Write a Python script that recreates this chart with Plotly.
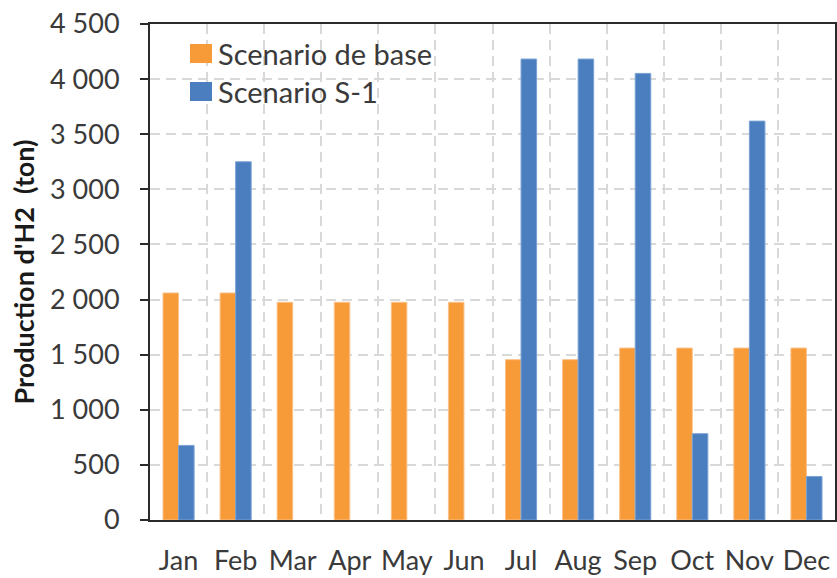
import plotly.graph_objects as go

# Monthly hydrogen production (tonnes) for the two scenarios
months = ["Jan", "Feb", "Mar", "Apr", "May", "Jun",
          "Jul", "Aug", "Sep", "Oct", "Nov", "Dec"]
base_scenario = [2060, 2060, 1975, 1975, 1975, 1975,
                 1455, 1455, 1560, 1560, 1560, 1560]
s1_scenario = [677, 3250, 0, 0, 0, 0,
               4182, 4182, 4052, 783, 3619, 395]
series_names = ["Scenario de base", "Scenario S-1"]

y_ticks = [0, 500, 1000, 1500, 2000, 2500, 3000, 3500, 4000, 4500]

ORANGE = "#F79A38"
BLUE = "#4A7EBF"
FONT = "Lato"
TEXT_COLOR = "#3A3A3A"
AXIS_COLOR = "#2B2B2B"
GRID_COLOR = "#D9D9D9"


def edge_widths(values):
    # no outline on empty months, so nothing is drawn along the baseline
    return [1 if v else 0 for v in values]


fig = go.Figure()
fig.add_trace(go.Bar(
    x=months, y=base_scenario, name=series_names[0],
    marker=dict(color=ORANGE,
                line=dict(color="#FAC28C", width=edge_widths(base_scenario))),
    showlegend=False,
))
fig.add_trace(go.Bar(
    x=months, y=s1_scenario, name=series_names[1],
    marker=dict(color=BLUE,
                line=dict(color="#7BA2D4", width=edge_widths(s1_scenario))),
    showlegend=False,
))

# Legend drawn as coloured squares with labels in the upper left of the plot
legend_rows = [(series_names[0], ORANGE, 0.9405), (series_names[1], BLUE, 0.8639)]
for label, color, yc in legend_rows:
    fig.add_shape(type="rect", xref="paper", yref="paper",
                  x0=0.0584, x1=0.0905, y0=yc - 0.0192, y1=yc + 0.0192,
                  fillcolor=color, line=dict(width=0))
    fig.add_annotation(xref="paper", yref="paper", x=0.0965, y=yc,
                       text=label, showarrow=False, xanchor="left",
                       yanchor="middle",
                       font=dict(family=FONT, size=29, color=TEXT_COLOR))

fig.update_layout(
    width=837, height=578,
    margin=dict(l=150, r=2, t=24, b=58),
    paper_bgcolor="white", plot_bgcolor="white",
    barmode="group", bargap=0.455, bargroupgap=0,
    separators=", ",
    font=dict(family=FONT, size=27, color=TEXT_COLOR),
)

fig.update_xaxes(
    type="category",
    tickson="boundaries",
    tickangle=0,
    automargin=False,
    showgrid=True, gridcolor=GRID_COLOR, gridwidth=2, griddash="10px,6px",
    showline=True, linecolor=AXIS_COLOR, linewidth=2, mirror=True,
    ticks="",
    ticklabelstandoff=16,
    tickfont=dict(family=FONT, size=27, color=TEXT_COLOR),
)
fig.update_yaxes(
    range=[0, 4500], tickvals=y_ticks, separatethousands=True,
    automargin=False,
    showgrid=True, gridcolor=GRID_COLOR, gridwidth=2, griddash="10px,6px",
    zeroline=False,
    showline=True, linecolor=AXIS_COLOR, linewidth=2, mirror=True,
    ticks="outside", ticklen=8, tickwidth=2, tickcolor=AXIS_COLOR,
    ticklabelstandoff=15,
    tickfont=dict(family=FONT, size=27, color=TEXT_COLOR),
    title=dict(text="<b>Production d'H2  (ton)</b>", standoff=8,
               font=dict(family=FONT, size=27, color="#1A1A1A")),
)

fig.write_html("out.html")
